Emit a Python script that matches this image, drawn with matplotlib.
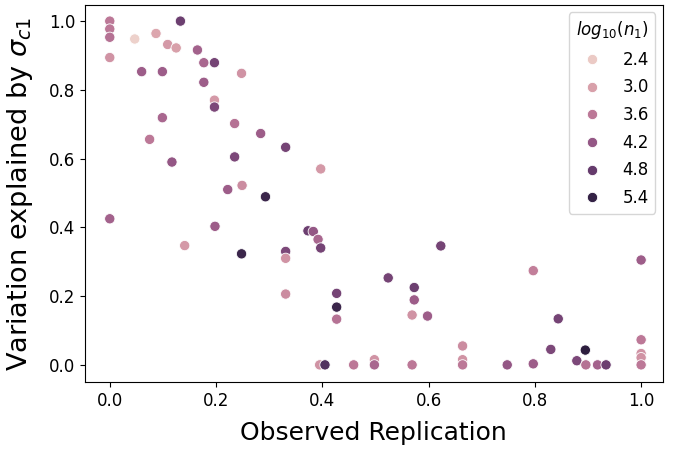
import numpy as np
import pandas as pd
import matplotlib
matplotlib.use('Agg')
import matplotlib.pyplot as plt
import seaborn as sns

# Observed replication (x), variation explained (y), log10(n1) (hue)
obs_rep = [0.0, 0.0, 0.0, 0.0, 0.047, 0.087, 0.109, 0.125, 0.133, 0.165,
           0.177, 0.197, 0.248, 0.060, 0.099, 0.177, 0.197, 0.197, 0.099, 0.235,
           0.284, 0.075, 0.235, 0.117, 0.222, 0.249, 0.293, 0.331, 0.397, 0.0,
           0.141, 0.198, 0.248, 0.331, 0.331, 0.331, 0.373, 0.383, 0.392, 0.397,
           0.427, 0.427, 0.427, 0.524, 0.623, 0.573, 0.573, 0.569, 0.598, 0.395,
           0.405, 0.459, 0.498, 0.498, 0.569, 0.664, 0.664, 0.664, 0.797, 1.0,
           0.844, 0.830, 0.895, 0.879, 0.896, 0.918, 0.934, 0.748, 0.797, 1.0,
           1.0, 1.0, 1.0]
var_expl = [1.0, 0.977, 0.953, 0.894, 0.948, 0.964, 0.932, 0.922, 1.0, 0.916,
            0.879, 0.879, 0.848, 0.853, 0.853, 0.822, 0.770, 0.750, 0.719, 0.702,
            0.673, 0.656, 0.605, 0.590, 0.510, 0.522, 0.489, 0.633, 0.570, 0.425,
            0.347, 0.403, 0.323, 0.330, 0.310, 0.206, 0.390, 0.388, 0.365, 0.340,
            0.208, 0.168, 0.133, 0.253, 0.346, 0.225, 0.189, 0.145, 0.142, 0.0,
            0.0, 0.0, 0.015, 0.0, 0.0, 0.055, 0.015, 0.0, 0.274, 0.305,
            0.134, 0.045, 0.043, 0.012, 0.0, 0.0, 0.0, 0.0, 0.003, 0.073,
            0.033, 0.021, 0.0]
log_n1 = [3.6, 3.6, 3.7, 3.2, 2.3, 2.9, 3.1, 3.0, 4.7, 4.0,
          3.9, 4.6, 3.2, 4.1, 4.1, 4.1, 3.1, 4.5, 3.9, 3.7,
          4.1, 3.6, 4.5, 4.2, 4.1, 3.3, 5.3, 4.6, 3.1, 4.0,
          3.1, 4.1, 5.3, 4.5, 3.2, 3.3, 4.7, 4.2, 3.9, 4.6,
          4.6, 5.3, 3.7, 4.6, 4.6, 4.7, 4.1, 3.2, 4.1, 3.2,
          5.0, 3.6, 3.2, 3.9, 3.6, 3.3, 3.2, 3.6, 3.5, 4.1,
          4.6, 4.5, 5.5, 4.5, 3.7, 4.0, 4.7, 4.2, 4.1, 3.6,
          3.2, 3.2, 3.6]

hue_name = '$log_{10}(n_1)$'
df = pd.DataFrame({'x': obs_rep, 'y': var_expl, hue_name: log_n1})

fig = plt.figure(figsize=(6.73, 4.5), dpi=100)
ax = fig.add_axes([0.126, 0.151, 0.859, 0.838])
sns.scatterplot(data=df, x='x', y='y', hue=hue_name, s=55, ax=ax)

ax.set_xlabel('Observed Replication', fontsize=18, labelpad=8)
ax.set_ylabel('Variation explained by $\\sigma_{c1}$', fontsize=19.5, labelpad=10)
ax.tick_params(labelsize=12)
ax.set_xlim(-0.047, 1.041)
ax.set_ylim(-0.05, 1.047)
ax.legend(title=hue_name, loc='upper right', fontsize=12, title_fontsize=12,
          borderaxespad=0.45, labelspacing=0.58)

fig.savefig('out.png', dpi=100)
